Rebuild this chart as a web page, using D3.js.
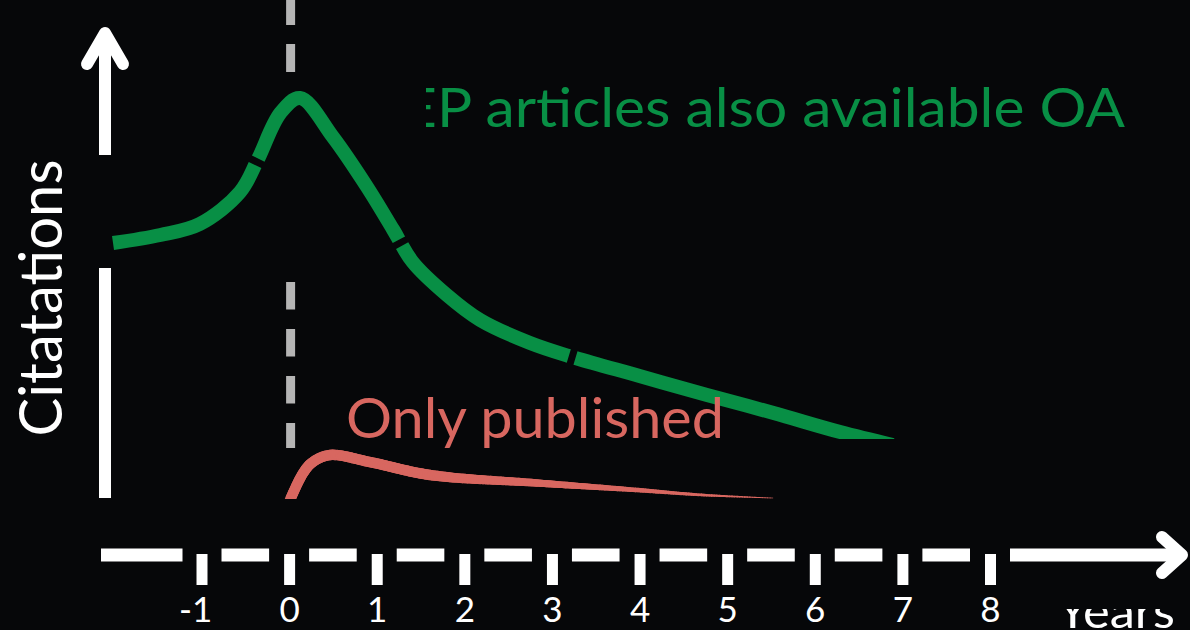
<!DOCTYPE html>
<html>
<head>
<meta charset="utf-8">
<script src="https://cdn.jsdelivr.net/npm/d3@7"></script>
<style>
  html, body { margin: 0; padding: 0; background: #060709; }
  svg { display: block; }
</style>
</head>
<body>
<div id="chart"></div>
<script>
// Values (years after publication, citations in arbitrary units 0-100)
var years = [-1, 0, 1, 2, 3, 4, 5, 6, 7, 8];

var oaYears     = [-2.01, -1.47, -1.02, -0.56, -0.36, -0.10, 0.125, 0.50, 0.89, 1.19, 1.41, 1.80, 2.18, 2.75, 3.23, 4.00, 4.77, 5.53, 6.29, 6.89];
var oaCitations = [63.75, 65.75, 68.5, 76.5, 84.5, 96.25, 100, 90.25, 77.75, 67, 59, 50.75, 44.5, 38.75, 35.25, 30.5, 25.75, 21.25, 16.5, 13.25];

var pubYears     = [0.01, 0.16, 0.27, 0.47, 0.92, 1.61, 2.83, 3.97, 4.72, 5.52];
var pubCitations = [-0.5, 6.25, 9, 10.75, 9, 5.75, 3.75, 2, 0.75, 0];

// small breaks in the green line
var gapYears = [-0.37, 1.27, 3.23];

var seriesLabels = ["EP articles also available OA", "Only published"];
var xTitle = "Years";
var yTitle = "Citatations";

// Exposed variables
var attrs = {
  svgWidth: 1190,
  svgHeight: 630,
  background: '#060709',
  white: '#ffffff',
  green: '#088f45',
  salmon: '#d86760',
  grey: '#b5b5b5',
  font: 'Lato, "Open Sans", sans-serif',
  axisWidth: 12
};

var svg = d3.select('#chart').append('svg')
  .attr('width', attrs.svgWidth)
  .attr('height', attrs.svgHeight)
  .attr('font-family', attrs.font);

svg.append('rect')
  .attr('width', attrs.svgWidth)
  .attr('height', attrs.svgHeight)
  .attr('fill', attrs.background);

var x = d3.scaleLinear().domain([-1, 8]).range([201.5, 990]);
var y = d3.scaleLinear().domain([0, 100]).range([498, 98]);

var line = d3.line()
  .x(function (d) { return x(d[0]); })
  .y(function (d) { return y(d[1]); })
  .curve(d3.curveCatmullRom.alpha(0.5));

//Clip paths
var defs = svg.append('defs');
defs.append('clipPath').attr('id', 'clip-oa').append('rect')
  .attr('x', 0).attr('y', 0).attr('width', attrs.svgWidth).attr('height', 439);
defs.append('clipPath').attr('id', 'clip-pub').append('rect')
  .attr('x', 0).attr('y', 0).attr('width', attrs.svgWidth).attr('height', y(-0.25));
defs.append('clipPath').attr('id', 'clip-title').append('rect')
  .attr('x', 426).attr('y', 0).attr('width', 800).attr('height', 200);
defs.append('clipPath').attr('id', 'clip-years').append('rect')
  .attr('x', 1040).attr('y', 609).attr('width', 150).attr('height', 30);

drawYAxis();
drawXAxis();
drawZeroLine();
drawOaLine();
drawPubLine();
drawLabels();

function drawYAxis() {
  var ax = 105;
  var g = svg.append('g').attr('class', 'y-axis')
    .attr('stroke', attrs.white)
    .attr('stroke-width', attrs.axisWidth)
    .attr('fill', 'none');

  g.append('line').attr('x1', ax).attr('x2', ax).attr('y1', 36).attr('y2', 155);
  g.append('line').attr('x1', ax).attr('x2', ax).attr('y1', 268).attr('y2', y(0));

  g.append('polyline')
    .attr('points', [[ax - 18, 64], [ax, 33], [ax + 18, 64]].join(' '))
    .attr('stroke-linecap', 'round')
    .attr('stroke-linejoin', 'round');
}

function drawXAxis() {
  var ay = 555;
  var half = 20;
  var segs = [[101, x(years[0]) - 19]];
  d3.pairs(years).forEach(function (p) {
    segs.push([x(p[0]) + half, x(p[1]) - half]);
  });
  segs.push([x(years[years.length - 1]) + half, 1178]);

  var g = svg.append('g').attr('class', 'x-axis-line')
    .attr('stroke', attrs.white)
    .attr('stroke-width', 13)
    .attr('fill', 'none');

  g.selectAll('line').data(segs).join('line')
    .attr('x1', function (d) { return d[0]; })
    .attr('x2', function (d) { return d[1]; })
    .attr('y1', ay).attr('y2', ay);

  g.append('polyline')
    .attr('points', [[1162, ay - 18], [1182, ay], [1162, ay + 18]].join(' '))
    .attr('stroke-width', 12)
    .attr('stroke-linecap', 'round')
    .attr('stroke-linejoin', 'round');

  // ticks + labels via d3 axis
  var xAxis = d3.axisBottom(x)
    .tickValues(years)
    .tickSizeInner(31)
    .tickSizeOuter(0)
    .tickPadding(12)
    .tickFormat(function (d) { return d < 0 ? '-' + Math.abs(d) : d; });

  var gx = svg.append('g').attr('class', 'x-axis')
    .attr('transform', 'translate(0,' + (ay - 1) + ')')
    .call(xAxis);

  gx.select('.domain').remove();
  gx.selectAll('.tick line')
    .attr('stroke', attrs.white)
    .attr('stroke-width', 11);
  gx.selectAll('.tick text')
    .attr('fill', attrs.white)
    .attr('font-family', attrs.font)
    .attr('font-size', 35)
    .attr('dx', function (d) { return d < 0 ? '-0.18em' : 0; });
}

function drawZeroLine() {
  var zx = x(0) + 1.5;
  var g = svg.append('g').attr('class', 'zero-line')
    .attr('stroke', attrs.grey)
    .attr('stroke-width', 9);
  g.append('line').attr('x1', zx).attr('x2', zx).attr('y1', -3).attr('y2', 72)
    .attr('stroke-dasharray', '28 19');
  g.append('line').attr('x1', zx).attr('x2', zx).attr('y1', 282).attr('y2', 448)
    .attr('stroke-dasharray', '27.5 19.5');
}

function lengthAtX(node, px) {
  var lo = 0, hi = node.getTotalLength();
  for (var i = 0; i < 40; i++) {
    var mid = (lo + hi) / 2;
    if (node.getPointAtLength(mid).x < px) lo = mid; else hi = mid;
  }
  return (lo + hi) / 2;
}

function drawOaLine() {
  var data = d3.zip(oaYears, oaCitations);
  var path = svg.append('path')
    .attr('class', 'oa-line')
    .attr('d', line(data))
    .attr('fill', 'none')
    .attr('stroke', attrs.green)
    .attr('stroke-width', 14)
    .attr('clip-path', 'url(#clip-oa)');

  var node = path.node();
  var total = node.getTotalLength();
  var gap = 7, prev = 0, dash = [];
  gapYears.forEach(function (g) {
    var c = lengthAtX(node, x(g));
    dash.push(c - gap / 2 - prev, gap);
    prev = c + gap / 2;
  });
  dash.push(total, 0);
  path.attr('stroke-dasharray', dash.join(' '));
}

function drawPubLine() {
  var data = d3.zip(pubYears, pubCitations);
  var guide = svg.append('path')
    .attr('d', line(data))
    .attr('fill', 'none')
    .attr('stroke', 'none');

  var node = guide.node();
  var total = node.getTotalLength();
  var n = 200;
  var pts = d3.range(n + 1).map(function (i) { return node.getPointAtLength(total * i / n); });
  var taper = d3.scaleLinear().domain([x(1.6), x(5.52)]).range([10.5, 0.6]).clamp(true);

  svg.append('g').attr('class', 'pub-line')
    .attr('clip-path', 'url(#clip-pub)')
    .selectAll('line').data(d3.pairs(pts)).join('line')
    .attr('x1', function (d) { return d[0].x; })
    .attr('y1', function (d) { return d[0].y; })
    .attr('x2', function (d) { return d[1].x; })
    .attr('y2', function (d) { return d[1].y; })
    .attr('stroke', attrs.salmon)
    .attr('stroke-linecap', 'round')
    .attr('stroke-width', function (d) { return taper((d[0].x + d[1].x) / 2); });
}

function drawLabels() {
  svg.append('text')
    .attr('clip-path', 'url(#clip-title)')
    .attr('x', 403).attr('y', 127)
    .attr('font-size', 55)
    .attr('fill', attrs.green)
    .attr('textLength', 722)
    .attr('lengthAdjust', 'spacingAndGlyphs')
    .text(seriesLabels[0]);

  svg.append('text')
    .attr('x', 346).attr('y', 438)
    .attr('font-size', 56)
    .attr('fill', attrs.salmon)
    .attr('textLength', 378)
    .attr('lengthAdjust', 'spacingAndGlyphs')
    .text(seriesLabels[1]);

  svg.append('text')
    .attr('transform', 'translate(62,298) rotate(-90)')
    .attr('text-anchor', 'middle')
    .attr('font-size', 60)
    .attr('fill', attrs.white)
    .attr('textLength', 277)
    .attr('lengthAdjust', 'spacingAndGlyphs')
    .text(yTitle);

  svg.append('text')
    .attr('clip-path', 'url(#clip-years)')
    .attr('x', 1057).attr('y', 628)
    .attr('font-size', 46)
    .attr('fill', attrs.white)
    .attr('textLength', 118)
    .attr('lengthAdjust', 'spacingAndGlyphs')
    .text(xTitle);
}
</script>
</body>
</html>
